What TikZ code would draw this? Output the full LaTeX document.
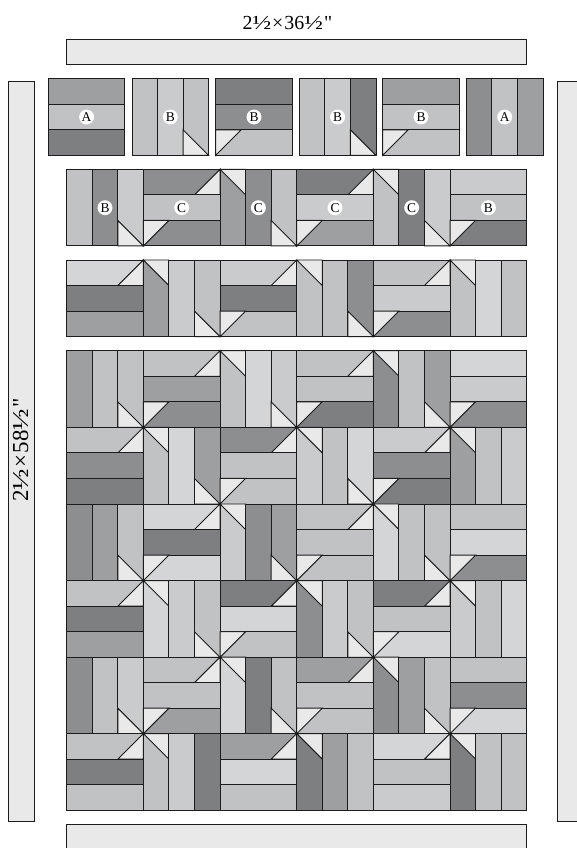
\documentclass[tikz,border=0pt]{standalone}
\usepackage{fontspec}
\setmainfont{Liberation Serif}
\newfontfamily\plainserif{Liberation Serif}
\definecolor{ca}{HTML}{7E7F81}
\definecolor{cb}{HTML}{8D8E90}
\definecolor{cc}{HTML}{9E9FA0}
\definecolor{cd}{HTML}{C1C2C3}
\definecolor{ce}{HTML}{CACBCC}
\definecolor{cf}{HTML}{D4D5D6}
\definecolor{cw}{HTML}{E9E9E9}
\definecolor{ln}{HTML}{1C1C1C}
\newcommand{\hlf}{\scalebox{1.25}[1]{½}}
\newcommand{\gp}{\kern0.05em}
\tikzset{
  patch/.style={draw=ln,line width=0.95pt,line join=miter},
  tri/.style={patch,fill=cw},
  strip/.style={draw=ln,line width=0.95pt,fill=cw},
  badge/.style={circle,fill=white,inner sep=0pt,minimum size=15pt,font=\plainserif\fontsize{13.5}{14}\selectfont},
  dim/.style={font=\plainserif\fontsize{20}{22}\selectfont,inner sep=0pt},
  dimb/.style={font=\plainserif\fontsize{23}{25}\selectfont,inner sep=0pt,rotate=90}
}
% horizontal block: x y top mid bottom TR(0/1) BL(0/1)
\newcommand{\HB}[7]{%
\begin{scope}[shift={(#1,#2)},x=25.556bp,y=-25.556bp]
  \ifnum#6=1
    \fill[#3] (0,0) -- (3,0) -- (2,1) -- (0,1) -- cycle;
    \filldraw[tri] (3,0) -- (3,1) -- (2,1) -- cycle;
    \draw[patch] (0,0) -- (3,0) (0,0) -- (0,1) -- (2,1);
  \else
    \filldraw[patch,fill=#3] (0,0) rectangle (3,1);
  \fi
  \filldraw[patch,fill=#4] (0,1) rectangle (3,2);
  \ifnum#7=1
    \fill[#5] (1,2) -- (3,2) -- (3,3) -- (0,3) -- cycle;
    \filldraw[tri] (0,3) -- (0,2) -- (1,2) -- cycle;
    \draw[patch] (1,2) -- (3,2) -- (3,3) -- (0,3);
  \else
    \filldraw[patch,fill=#5] (0,2) rectangle (3,3);
  \fi
\end{scope}}
% vertical block: x y left mid right TL(0/1) BR(0/1)
\newcommand{\VB}[7]{%
\begin{scope}[shift={(#1,#2)},x=25.556bp,y=-25.556bp]
  \ifnum#6=1
    \fill[#3] (0,0) -- (1,1) -- (1,3) -- (0,3) -- cycle;
    \filldraw[tri] (0,0) -- (1,0) -- (1,1) -- cycle;
    \draw[patch] (0,0) -- (0,3) -- (1,3) -- (1,1);
  \else
    \filldraw[patch,fill=#3] (0,0) rectangle (1,3);
  \fi
  \filldraw[patch,fill=#4] (1,0) rectangle (2,3);
  \ifnum#7=1
    \fill[#5] (2,0) -- (3,0) -- (3,3) -- (2,2) -- cycle;
    \filldraw[tri] (3,3) -- (2,3) -- (2,2) -- cycle;
    \draw[patch] (2,2) -- (2,0) -- (3,0) -- (3,3);
  \else
    \filldraw[patch,fill=#5] (2,0) rectangle (3,3);
  \fi
\end{scope}}
\begin{document}
\begin{tikzpicture}[x=1bp,y=-1bp]
\useasboundingbox (0,0) rectangle (577,848);
\fill[white] (0,0) rectangle (577,848);
% strips
\draw[strip] (66.7,39) rectangle (526.7,64.3);
\draw[strip] (66.7,824.3) rectangle (526.7,860);
\draw[strip] (8.7,81.3) rectangle (34.3,821.7);
\draw[strip] (557.3,81.3) rectangle (590,821.7);
\node[dim] (topdim) at (287.4,23.3) {2\hlf\gp×\gp36\hlf\gp"};
\node[dimb] (leftdim) at (20.5,450) {2\hlf\gp×\gp58\hlf\gp"};
% row 1
\def\ya{78.7}
\HB{48.3}{\ya}{cc}{cd}{ca}{0}{0}
\VB{132}{\ya}{cd}{ce}{cd}{0}{1}
\HB{215.7}{\ya}{ca}{cb}{cd}{0}{1}
\VB{299.3}{\ya}{cd}{ce}{ca}{0}{1}
\HB{382.7}{\ya}{cc}{cd}{cd}{0}{1}
\VB{466.3}{\ya}{cb}{cd}{cc}{0}{0}
% grid columns
\def\ca{66.7}\def\cb{143.37}\def\cc{220.03}\def\cd{296.7}\def\ce{373.37}\def\cf{450.03}
% row 2
\def\y{169.3}
\VB{\ca}{\y}{cd}{cb}{ce}{0}{1}
\HB{\cb}{\y}{cb}{cd}{cb}{1}{1}
\VB{\cc}{\y}{cc}{cb}{cd}{1}{1}
\HB{\cd}{\y}{ca}{ce}{cc}{1}{1}
\VB{\ce}{\y}{cd}{ca}{ce}{1}{1}
\HB{\cf}{\y}{ce}{cd}{ca}{0}{1}
% row 3
\def\y{260}
\HB{\ca}{\y}{cf}{ca}{cc}{1}{0}
\VB{\cb}{\y}{cc}{ce}{cd}{1}{1}
\HB{\cc}{\y}{ce}{ca}{cd}{1}{1}
\VB{\cd}{\y}{cd}{cd}{cb}{1}{1}
\HB{\ce}{\y}{cd}{ce}{cb}{1}{1}
\VB{\cf}{\y}{cd}{cf}{cd}{1}{0}
% row 4
\def\y{350.7}
\VB{\ca}{\y}{cc}{cd}{cd}{0}{1}
\HB{\cb}{\y}{cd}{cc}{cb}{1}{1}
\VB{\cc}{\y}{cd}{cf}{ce}{1}{1}
\HB{\cd}{\y}{cd}{cd}{ca}{1}{1}
\VB{\ce}{\y}{cb}{cd}{cc}{1}{1}
\HB{\cf}{\y}{cf}{ce}{cb}{0}{1}
% row 5
\def\y{427.35}
\HB{\ca}{\y}{cd}{cb}{ca}{1}{0}
\VB{\cb}{\y}{cd}{cf}{cc}{1}{1}
\HB{\cc}{\y}{cb}{cd}{cd}{1}{1}
\VB{\cd}{\y}{ce}{cd}{cf}{1}{1}
\HB{\ce}{\y}{ce}{cb}{ca}{1}{1}
\VB{\cf}{\y}{cc}{cd}{ce}{1}{0}
% row 6
\def\y{504}
\VB{\ca}{\y}{cb}{cc}{cd}{0}{1}
\HB{\cb}{\y}{cf}{ca}{cf}{1}{1}
\VB{\cc}{\y}{ce}{cb}{cc}{1}{1}
\HB{\cd}{\y}{cd}{cd}{cd}{1}{1}
\VB{\ce}{\y}{cf}{cd}{cd}{1}{1}
\HB{\cf}{\y}{cd}{cf}{cb}{0}{1}
% row 7
\def\y{580.65}
\HB{\ca}{\y}{cd}{ca}{cc}{1}{0}
\VB{\cb}{\y}{cf}{ce}{cd}{1}{1}
\HB{\cc}{\y}{ca}{cf}{cd}{1}{1}
\VB{\cd}{\y}{cb}{ce}{cd}{1}{1}
\HB{\ce}{\y}{ca}{cd}{cf}{1}{1}
\VB{\cf}{\y}{ce}{cd}{cf}{1}{0}
% row 8
\def\y{657.1}
\VB{\ca}{\y}{cb}{cd}{ce}{0}{1}
\HB{\cb}{\y}{cd}{cd}{cc}{1}{1}
\VB{\cc}{\y}{cf}{ca}{cd}{1}{1}
\HB{\cd}{\y}{cc}{cd}{cd}{1}{1}
\VB{\ce}{\y}{cb}{cc}{cd}{1}{1}
\HB{\cf}{\y}{cd}{cb}{cf}{0}{1}
% row 9
\def\y{733.6}
\HB{\ca}{\y}{cd}{ca}{cd}{1}{0}
\VB{\cb}{\y}{cd}{ce}{ca}{1}{0}
\HB{\cc}{\y}{cc}{cf}{cd}{1}{0}
\VB{\cd}{\y}{ca}{cc}{cd}{1}{0}
\HB{\ce}{\y}{cf}{cd}{ce}{1}{0}
\VB{\cf}{\y}{ca}{cd}{cd}{1}{0}
% labels
\node[badge] (l1) at (86.6,117) {A};
\node[badge] (l2) at (170.3,117) {B};
\node[badge] (l3) at (254,117) {B};
\node[badge] (l4) at (337.6,117) {B};
\node[badge] (l5) at (421,117) {B};
\node[badge] (l6) at (504.7,117) {A};
\node[badge] (m1) at (105,207.7) {B};
\node[badge] (m2) at (181.7,207.7) {C};
\node[badge] (m3) at (258.4,207.7) {C};
\node[badge] (m4) at (335,207.7) {C};
\node[badge] (m5) at (411.7,207.7) {C};
\node[badge] (m6) at (488.4,207.7) {B};
\end{tikzpicture}
\end{document}
